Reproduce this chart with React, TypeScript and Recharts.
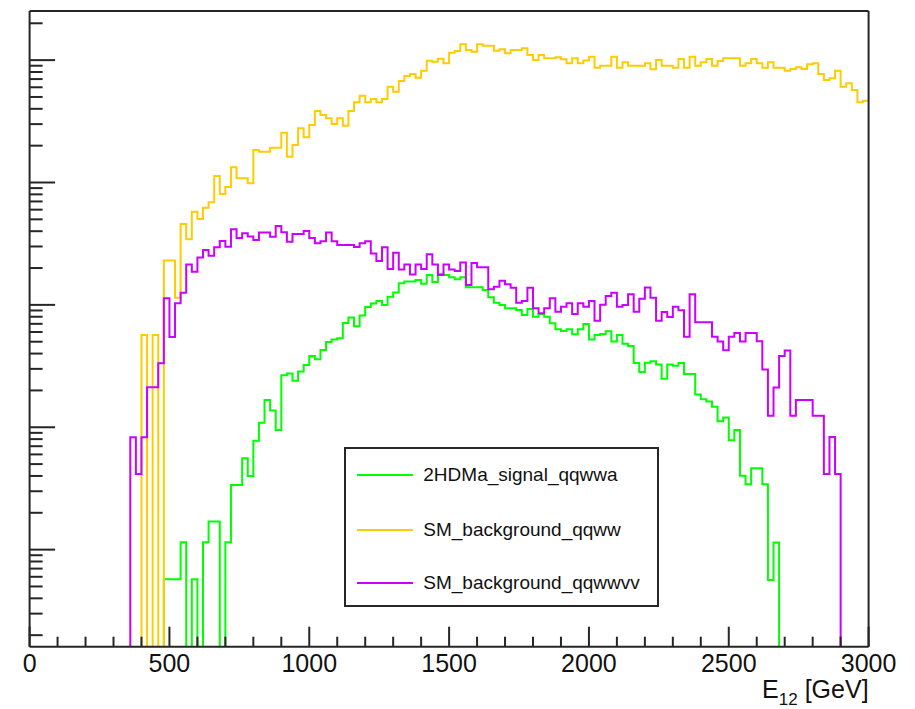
import React from 'react';
import { LineChart, Line, XAxis, YAxis, Legend } from 'recharts';

// ---------------- data (bin contents, 20 GeV bins from 0 to 3000 GeV) ----------------
const BIN_WIDTH = 20;
const X_MAX = 3000;
const binLowEdges: number[] = Array.from({ length: X_MAX / BIN_WIDTH }, (_, i) => i * BIN_WIDTH);

const signalQqwwa = [
  0, 0, 0, 0, 0, 0, 0, 0, 0, 0,
  0, 0, 0, 0, 0, 0, 0, 0, 0, 0,
  0, 0, 0, 0, 0.573, 0.573, 0.573, 1.149, 0, 0.573,
  0, 1.149, 1.694, 1.694, 0, 1.149, 3.378, 3.378, 5.58, 4.0,
  7.77, 10.9, 16.7, 13.7, 9.51, 26.6, 27.5, 24.0, 28.5, 32.3,
  38.3, 35.9, 42.8, 49.8, 52.2, 53.4, 71.1, 78.9, 66.8, 81.9,
  96.1, 102.6, 107.6, 99.8, 116.7, 126.3, 150.1, 154.9, 154.9, 159.7,
  149.0, 175.5, 153.8, 179.9, 175.5, 168.0, 161.8, 168.0, 139.3, 139.3,
  139.3, 132.4, 115.4, 104.2, 99.8, 93.8, 93.8, 90.8, 82.7, 92.6,
  80.1, 84.3, 80.1, 70.8, 63.2, 61.2, 63.2, 57.5, 63.2, 69.8,
  52.2, 56.8, 57.8, 60.9, 50.1, 56.8, 48.2, 46.2, 33.5, 28.3,
  33.7, 34.7, 32.6, 24.9, 32.6, 31.8, 33.5, 27.2, 27.2, 18.5,
  16.9, 16.2, 14.7, 11.2, 12.0, 7.83, 9.51, 4.02, 3.42, 4.62,
  4.62, 3.42, 0.565, 1.141, 0, 0, 0, 0, 0, 0,
  0, 0, 0, 0, 0, 0, 0, 0, 0, 0,
];

const bkgQqww = [
  0, 0, 0, 0, 0, 0, 0, 0, 0, 0,
  0, 0, 0, 0, 0, 0, 0, 0, 0, 0,
  56.8, 0, 56.8, 0, 230, 230, 114.5, 458, 344, 577,
  504, 622, 689, 1130, 805, 918, 1331, 1082, 1082, 985,
  1845, 1786, 1786, 1923, 1923, 2553, 1625, 2024, 2773, 2339,
  2951, 3837, 3556, 3350, 3006, 3350, 2911, 3837, 4520, 5117,
  4520, 4809, 4520, 4809, 6067, 5521, 6745, 7413, 7698, 7178,
  8190, 9886, 9705, 10260, 9419, 11490, 11870, 13460, 12100, 11720,
  13460, 13120, 13120, 11940, 12250, 11370, 12100, 12100, 12480, 11010,
  10020, 11010, 10350, 10350, 10540, 10160, 9419, 10350, 9419, 9930,
  10660, 8670, 8995, 8995, 10660, 8670, 9594, 8995, 8995, 8995,
  9419, 8410, 10020, 8995, 8995, 8670, 10210, 8670, 10660, 8995,
  9594, 10210, 8995, 9840, 10350, 10350, 10350, 8995, 9419, 10210,
  9419, 8670, 9594, 8670, 8670, 8190, 8453, 8730, 8453, 9247,
  9419, 7698, 6871, 7099, 8190, 6067, 6457, 5700, 4520, 4656,
];

const bkgQqwwvv = [
  0, 0, 0, 0, 0, 0, 0, 0, 0, 0,
  0, 0, 0, 0, 0, 0, 0, 0, 8.28, 4.15,
  8.28, 21.2, 21.2, 33.3, 113.2, 54.7, 103.0, 125.9, 213.8, 186.7,
  243.8, 281.0, 252.4, 295.7, 332.7, 298.8, 414.7, 352.1, 384.6, 362.2,
  338.8, 390.6, 390.6, 360.6, 441.6, 391.7, 328.1, 379.3, 379.3, 401.8,
  352.1, 318.4, 331.1, 390.6, 331.1, 308.4, 308.4, 308.4, 297.2, 318.4,
  331.1, 263.0, 228.4, 295.7, 196.4, 266.9, 194.5, 213.8, 177.2, 213.8,
  196.4, 259.0, 213.8, 175.5, 213.8, 194.5, 189.2, 222.0, 145.4, 220.0,
  202.8, 202.8, 134.1, 140.9, 157.7, 147.3, 138.2, 104.2, 107.6, 138.2,
  93.8, 85.3, 93.8, 113.2, 88.0, 96.7, 103.0, 84.3, 103.0, 96.7,
  107.6, 74.3, 100.4, 118.3, 125.9, 96.7, 99.8, 122.1, 88.0, 112.2,
  138.7, 114.3, 74.3, 87.5, 79.6, 96.7, 90.3, 55.0, 122.1, 72.2,
  72.2, 72.2, 55.0, 50.1, 42.6, 55.0, 58.9, 50.1, 58.9, 58.9,
  50.4, 29.7, 12.4, 21.1, 38.3, 42.3, 12.4, 16.7, 16.7, 16.7,
  12.4, 12.4, 4.15, 8.33, 4.15, 0, 0, 0, 0, 0,
];

const seriesKeys = ['signal', 'bkgWW', 'bkgWWvv'];
const seriesNames = ['2HDMa_signal_qqwwa', 'SM_background_qqww', 'SM_background_qqwwvv'];
const seriesColors = ['#00ff00', '#ffcc00', '#cc00ff'];
const seriesValues = [signalQqwwa, bkgQqww, bkgQqwwvv];

const xTickValues: number[] = Array.from({ length: 31 }, (_, i) => i * 100);
const xLabelStep = 500;

// log-scale y axis (no tick labels in the original)
const Y_MIN = 0.161;
const Y_MAX = 25200;
const EMPTY_BIN = 1e-3; // empty bins are drawn below the frame, like ROOT on a log axis
const yTickValues: number[] = [];
[0.1, 1, 10, 100, 1000, 10000].forEach((d) => {
  for (let m = 1; m <= 9; m++) {
    const v = d * m;
    if (v >= Y_MIN && v <= Y_MAX) yTickValues.push(v);
  }
});

// ---------------- chart table ----------------
const shown = (v: number) => (v > 0 ? v : EMPTY_BIN);
const rows = binLowEdges.map((x, i) => {
  const r: Record<string, number> = { x };
  seriesKeys.forEach((k, s) => { r[k] = shown(seriesValues[s][i]); });
  return r;
});
const lastRow: Record<string, number> = { x: X_MAX };
seriesKeys.forEach((k, s) => { lastRow[k] = shown(seriesValues[s][seriesValues[s].length - 1]); });
const chartData = [...rows, lastRow];

// ---------------- styles ----------------
const FONT = '"Liberation Sans", Arial, Helvetica, sans-serif';
const AXIS_COLOR = '#262626';
const W = 915;
const H = 709;

const XTick = (props: any) => {
  const { x, y, payload } = props;
  const v = payload.value as number;
  const major = v % xLabelStep === 0;
  return (
    <g>
      <line x1={x} x2={x} y1={y} y2={y - (major ? 20 : 10)} stroke={AXIS_COLOR} strokeWidth={2} />
      {major && (
        <text x={x} y={y + 25.5} textAnchor="middle" fontSize={25} fontFamily={FONT} fill="#111">
          {v}
        </text>
      )}
    </g>
  );
};

const YTick = (props: any) => {
  const { x, y, payload } = props;
  const lg = Math.log10(payload.value as number);
  const major = Math.abs(lg - Math.round(lg)) < 1e-6;
  return <line x1={x} x2={x + (major ? 25.5 : 13)} y1={y} y2={y} stroke={AXIS_COLOR} strokeWidth={2} />;
};

const XTitle = (props: any) => {
  const vb = props.viewBox || { x: 29.6, y: 646.7, width: 839, height: 62.3 };
  return (
    <text x={vb.x + vb.width} y={vb.y + 51.5} textAnchor="end" fontSize={25} fontFamily={FONT} fill="#111">
      E
      <tspan fontSize={17} dy={7}>12</tspan>
      <tspan dy={-7}> [GeV]</tspan>
    </text>
  );
};

const LegendBox = () => (
  <div
    style={{
      width: 315,
      height: 160,
      boxSizing: 'border-box',
      border: `2px solid ${AXIS_COLOR}`,
      background: '#fff',
      position: 'relative',
      fontFamily: FONT,
    }}
  >
    {seriesNames.map((name, i) => {
      const cy = [25.5, 80.3, 133.3][i];
      return (
        <div key={name}>
          <div
            style={{
              position: 'absolute',
              left: 10.5,
              top: cy - 1,
              width: 56,
              height: 2,
              background: seriesColors[i],
            }}
          />
          <div
            style={{
              position: 'absolute',
              left: 77,
              top: cy - 12,
              height: 24,
              lineHeight: '24px',
              fontSize: 19,
              color: '#111',
              whiteSpace: 'nowrap',
            }}
          >
            {name}
          </div>
        </div>
      );
    })}
  </div>
);

export default function App() {
  return (
    <div style={{ position: 'absolute', left: 0, top: 0, width: W, height: H, background: '#fff' }}>
      <LineChart width={W} height={H} data={chartData} margin={{ top: 10, right: 45.4, bottom: 0, left: 0 }}>
        <XAxis
          dataKey="x"
          type="number"
          domain={[0, X_MAX]}
          ticks={xTickValues}
          interval={0}
          tickSize={0}
          tickMargin={0}
          tickLine={false}
          height={62.3}
          axisLine={{ stroke: AXIS_COLOR, strokeWidth: 2 }}
          tick={<XTick />}
          label={<XTitle />}
        />
        <XAxis
          xAxisId="top"
          orientation="top"
          type="number"
          domain={[0, X_MAX]}
          height={1}
          tick={false}
          tickLine={false}
          axisLine={{ stroke: AXIS_COLOR, strokeWidth: 2 }}
        />
        <YAxis
          type="number"
          scale="log"
          domain={[Y_MIN, Y_MAX]}
          allowDataOverflow
          ticks={yTickValues}
          interval={0}
          tickSize={0}
          tickMargin={0}
          tickLine={false}
          width={29.6}
          axisLine={{ stroke: AXIS_COLOR, strokeWidth: 2 }}
          tick={<YTick />}
        />
        <YAxis
          yAxisId="right"
          orientation="right"
          type="number"
          domain={[0, 1]}
          width={1}
          tick={false}
          tickLine={false}
          axisLine={{ stroke: AXIS_COLOR, strokeWidth: 2 }}
        />
        {seriesKeys.map((k, i) => (
          <Line
            key={k}
            dataKey={k}
            name={seriesNames[i]}
            type="stepAfter"
            stroke={seriesColors[i]}
            strokeWidth={2}
            dot={false}
            activeDot={false}
            isAnimationActive={false}
          />
        ))}
        <Legend
          layout="vertical"
          align="center"
          verticalAlign="middle"
          wrapperStyle={{ left: 344.3, top: 447.3, width: 315, height: 160 }}
          content={() => <LegendBox />}
        />
      </LineChart>
    </div>
  );
}
